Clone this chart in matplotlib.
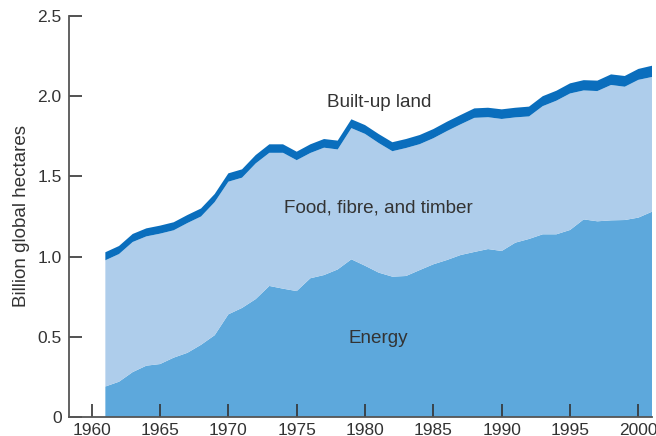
import matplotlib
matplotlib.use('Agg')
import matplotlib.pyplot as plt

plt.rcParams['font.family'] = ['Liberation Sans', 'DejaVu Sans']

years = list(range(1961, 2002))

# Energy footprint (billion global hectares)
energy = [0.19, 0.22, 0.28, 0.32, 0.33, 0.37, 0.40, 0.45, 0.51, 0.64,
          0.68, 0.735, 0.817, 0.80, 0.785, 0.865, 0.885, 0.92, 0.983, 0.943,
          0.90, 0.875, 0.879, 0.916, 0.952, 0.979, 1.01, 1.029, 1.047, 1.035,
          1.087, 1.11, 1.139, 1.139, 1.166, 1.232, 1.22, 1.226, 1.228, 1.243,
          1.28]

# Total footprint (top of built-up band)
total = [1.027, 1.066, 1.141, 1.176, 1.193, 1.214, 1.259, 1.30, 1.39, 1.519,
         1.544, 1.633, 1.70, 1.70, 1.654, 1.70, 1.733, 1.723, 1.856, 1.82,
         1.764, 1.713, 1.733, 1.758, 1.795, 1.841, 1.883, 1.924, 1.928, 1.918,
         1.928, 1.935, 2.0, 2.034, 2.08, 2.10, 2.097, 2.136, 2.126, 2.17,
         2.19]

# Built-up land band thickness
builtup = [0.05, 0.05, 0.05, 0.05, 0.05, 0.05, 0.05, 0.05, 0.05, 0.052,
           0.052, 0.052, 0.053, 0.053, 0.053, 0.054, 0.054, 0.055, 0.055, 0.055,
           0.056, 0.056, 0.056, 0.057, 0.057, 0.058, 0.058, 0.059, 0.059, 0.06,
           0.06, 0.061, 0.062, 0.062, 0.063, 0.064, 0.065, 0.066, 0.067, 0.068,
           0.07]

# food, fibre and timber is what's left between energy and built-up
food = [t - b - e for t, b, e in zip(total, builtup, energy)]

labels = ['Energy', 'Food, fibre, and timber', 'Built-up land']
colors = ['#5da8dc', '#aecdeb', '#0a6ebd']

fig = plt.figure(figsize=(6.56, 4.36), dpi=100)
ax = fig.add_axes([0.1056, 0.0436, 0.8884, 0.9197])

ax.stackplot(years, energy, food, builtup, colors=colors, linewidth=0)

ax.set_xlim(1958.36, 2001)
ax.set_ylim(0, 2.5)
ax.set_xticks(range(1960, 2001, 5))
ax.set_yticks([0, 0.5, 1.0, 1.5, 2.0, 2.5])
ax.set_yticklabels(['0', '0.5', '1.0', '1.5', '2.0', '2.5'])

for s in ['top', 'right']:
    ax.spines[s].set_visible(False)
for s in ['left', 'bottom']:
    ax.spines[s].set_color('#555555')
    ax.spines[s].set_linewidth(1.3)

ax.tick_params(axis='both', direction='in', length=9.5, width=1.2,
               color='#333333', labelsize=12.5, labelcolor='#333333')
ax.tick_params(axis='y', pad=5.5)
ax.tick_params(axis='x', pad=4.5)

ax.set_ylabel('Billion global hectares', fontsize=13.5, color='#333333', labelpad=5)

ax.text(1981, 1.96, labels[2], fontsize=13.6, color='#333333', ha='center', va='center')
ax.text(1981, 1.3, labels[1], fontsize=13.6, color='#333333', ha='center', va='center')
ax.text(1981, 0.49, labels[0], fontsize=13.6, color='#333333', ha='center', va='center')

fig.savefig('out.png', dpi=100)
